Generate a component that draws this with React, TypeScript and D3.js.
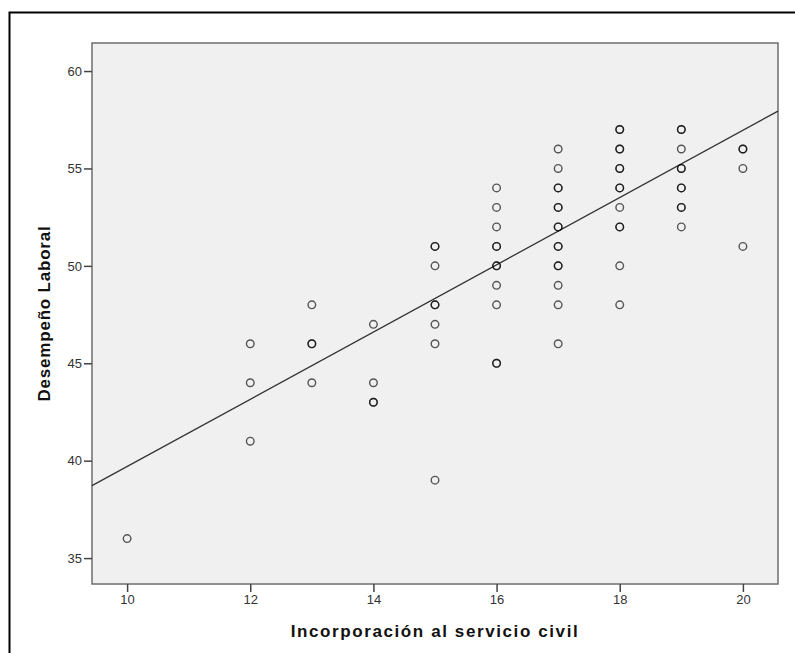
import { useEffect, useRef } from "react"
import * as d3 from "d3"

// Incorporación al servicio civil (x) and Desempeño Laboral (y), one row per drawn case
const xValues = [
  10,
  12, 12, 12,
  13, 13, 13, 13,
  14, 14, 14, 14,
  15, 15, 15, 15, 15, 15, 15, 15,
  16, 16, 16, 16, 16, 16, 16, 16, 16, 16, 16,
  17, 17, 17, 17, 17, 17, 17, 17, 17, 17, 17, 17, 17, 17, 17,
  18, 18, 18, 18, 18, 18, 18, 18, 18, 18, 18, 18, 18,
  19, 19, 19, 19, 19, 19, 19, 19, 19, 19,
  20, 20, 20, 20,
]
const yValues = [
  36,
  46, 44, 41,
  48, 46, 46, 44,
  47, 44, 43, 43,
  51, 51, 50, 48, 48, 47, 46, 39,
  54, 53, 52, 51, 51, 50, 50, 49, 48, 45, 45,
  56, 55, 54, 54, 53, 53, 52, 52, 51, 51, 50, 50, 49, 48, 46,
  57, 57, 56, 56, 55, 55, 54, 54, 53, 52, 52, 50, 48,
  57, 57, 56, 55, 55, 54, 54, 53, 53, 52,
  56, 56, 55, 51,
]

const xTicks = [10, 12, 14, 16, 18, 20]
const yTicks = [35, 40, 45, 50, 55, 60]

// fit line
const fitIntercept = 22.44
const fitSlope = 1.726

const App = () => {
  const svgRef = useRef<SVGSVGElement | null>(null)

  useEffect(() => {
    if (!svgRef.current) return
    const svg = d3.select(svgRef.current)
    svg.selectAll("*").remove()

    const width = 795
    const height = 653
    const plot = { left: 92, top: 43, right: 778, bottom: 584 }

    const x = d3.scaleLinear().domain([9.43, 20.57]).range([plot.left, plot.right])
    const y = d3.scaleLinear().domain([33.67, 61.44]).range([plot.bottom, plot.top])

    // outer frame
    svg.append("path")
      .attr("d", `M9.5,${height} V12.5 H${width}`)
      .attr("fill", "none")
      .attr("stroke", "#000")
      .attr("stroke-width", 2)

    svg.append("rect")
      .attr("x", plot.left)
      .attr("y", plot.top)
      .attr("width", plot.right - plot.left)
      .attr("height", plot.bottom - plot.top)
      .attr("fill", "#f0f0f0")
      .attr("stroke", "#6e6e6e")
      .attr("stroke-width", 1.5)

    const font = "'Liberation Sans', Arial, sans-serif"

    // Y axis
    const yAxis = svg.append("g").attr("transform", `translate(${plot.left},0)`)
      .call(d3.axisLeft(y).tickValues(yTicks).tickSize(8).tickSizeOuter(0).tickPadding(2))
    yAxis.select(".domain").remove()
    yAxis.selectAll("line").attr("stroke", "#444").attr("stroke-width", 1.5)
    yAxis.selectAll("text")
      .attr("fill", "#333")
      .style("font-family", font)
      .style("font-size", "13px")

    // X axis
    const xAxis = svg.append("g").attr("transform", `translate(0,${plot.bottom})`)
      .call(d3.axisBottom(x).tickValues(xTicks).tickSize(8).tickSizeOuter(0).tickPadding(3))
    xAxis.select(".domain").remove()
    xAxis.selectAll("line").attr("stroke", "#444").attr("stroke-width", 1.5)
    xAxis.selectAll("text")
      .attr("fill", "#333")
      .style("font-family", font)
      .style("font-size", "13px")

    // axis titles
    svg.append("text")
      .attr("x", (plot.left + plot.right) / 2)
      .attr("y", 637)
      .attr("text-anchor", "middle")
      .style("font-family", font)
      .style("font-size", "17px")
      .style("font-weight", "bold")
      .style("letter-spacing", "1.6px")
      .attr("fill", "#111")
      .text("Incorporación al servicio civil")

    svg.append("text")
      .attr("transform", `translate(50,${(plot.top + plot.bottom) / 2}) rotate(-90)`)
      .attr("text-anchor", "middle")
      .style("font-family", font)
      .style("font-size", "17px")
      .style("font-weight", "bold")
      .style("letter-spacing", "0.8px")
      .attr("fill", "#111")
      .text("Desempeño Laboral")

    // fit line
    const fit = (v: number) => fitIntercept + fitSlope * v
    const [x0, x1] = x.domain()
    svg.append("line")
      .attr("x1", x(x0)).attr("y1", y(fit(x0)))
      .attr("x2", x(x1)).attr("y2", y(fit(x1)))
      .attr("stroke", "#333")
      .attr("stroke-width", 1.3)

    // points
    const points = xValues.map((v, i) => ({ x: v, y: yValues[i] }))
    svg.append("g")
      .selectAll("circle")
      .data(points)
      .join("circle")
      .attr("cx", (d) => x(d.x))
      .attr("cy", (d) => y(d.y))
      .attr("r", 3.8)
      .attr("fill", "none")
      .attr("stroke", "#000")
      .attr("stroke-opacity", 0.65)
      .attr("stroke-width", 1.4)
  }, [])

  return (
    <svg
      ref={svgRef}
      width={795}
      height={653}
      style={{ position: "absolute", left: 0, top: 0, background: "#fff" }}
    />
  )
}

export default App
